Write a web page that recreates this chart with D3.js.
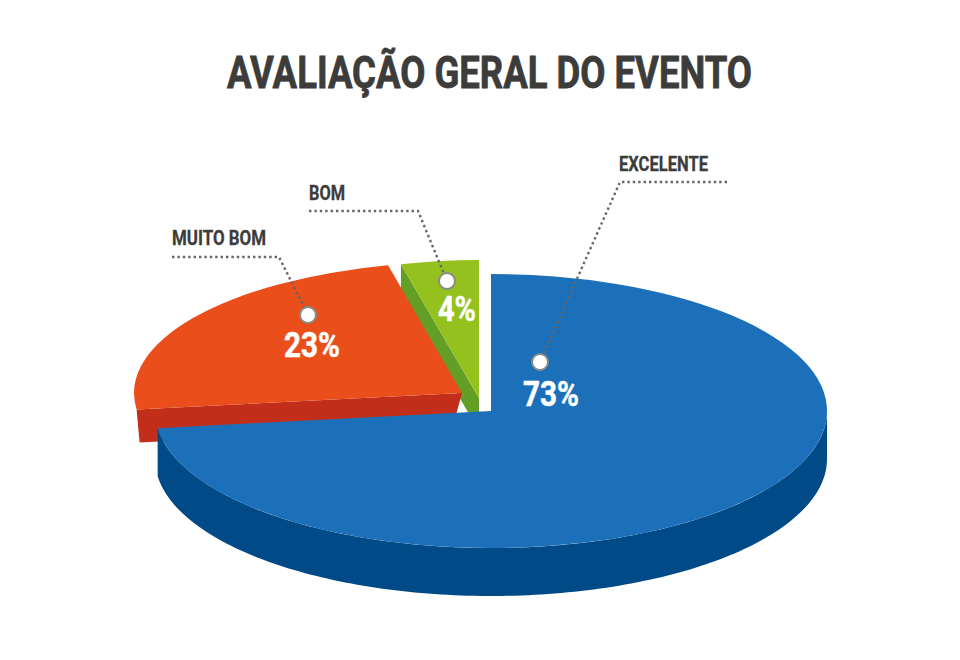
<!DOCTYPE html>
<html><head><meta charset="utf-8">
<script src="https://cdnjs.cloudflare.com/ajax/libs/d3/7.8.5/d3.min.js"></script>
<style>html,body{margin:0;padding:0;background:#fff}svg{display:block}
text{font-family:"Liberation Sans Narrow","Roboto",sans-serif;font-weight:700}</style></head>
<body><svg id="c" width="960" height="660"></svg>
<script>
const titleText = "AVALIAÇÃO GERAL DO EVENTO";
const categories = ["EXCELENTE", "MUITO BOM", "BOM"];
const values = [73, 23, 4];
const valueLabels = ["73%", "23%", "4%"];

// layout, per slice: ellipse centre and radii, extrusion depth, colours, callout
const layout = [
  {cx:491, cy:411, rx:336, ry:137, depth:48, top:"#1c70b9", side:"#004a87", endNudge:0,
   label:[619,171,89], pct:[523,406,56], dot:[540,362], elbow:[620,182], end:[727,182]},
  {cx:462, cy:393, rx:328, ry:131, depth:33, top:"#e94e1b", side:"#c32e1a", skew:[3,-9], endNudge:0.024,
   label:[172,245,94], pct:[284,357,56], dot:[308,315], elbow:[279,257], end:[172,257]},
  {cx:479, cy:398, rx:314, ry:138, depth:33, top:"#95c11f", side:"#639f26", skew:[0,0], endNudge:0,
   label:[309,200,36], pct:[438,321,38], dot:[447,281], elbow:[418,211], end:[309,211]}
];
const ink = "#3c3c3b";

const svg = d3.select("#c");
const slices = d3.pie().sort(null)(values);
const unit = d3.arc().innerRadius(0).outerRadius(100);
const onRim = (l, a) => [l.cx + l.rx*Math.sin(a), l.cy - l.ry*Math.cos(a)];

svg.append("text").attr("x",227).attr("y",88).attr("font-size",44).attr("fill",ink)
  .attr("stroke",ink).attr("stroke-width",0.8)
  .attr("textLength",525).attr("lengthAdjust","spacingAndGlyphs").text(titleText);

// draw back to front: green, red, blue
[2,1,0].forEach(i => {
  const s = slices[i], l = layout[i];
  if (i === 0) {
    // outer rim wall of the big slice
    const angles = d3.range(Math.PI/2, s.endAngle, 0.02).concat([s.endAngle]);
    svg.append("path").attr("fill", l.side).attr("d",
      d3.area().x(a => onRim(l,a)[0]).y0(a => onRim(l,a)[1]).y1(a => onRim(l,a)[1] + l.depth)(angles));
  } else {
    // cut face wall
    const p = onRim(l, s.startAngle);
    svg.append("path").attr("fill", l.side).attr("d", d3.line()([
      p, [l.cx,l.cy], [l.cx+l.skew[1], l.cy+l.depth], [p[0]+l.skew[0], p[1]+l.depth]
    ])+"Z");
  }
  svg.append("path").attr("fill", l.top)
    .attr("transform",`translate(${l.cx},${l.cy}) scale(${l.rx/100},${l.ry/100})`)
    .attr("d", unit({startAngle:s.startAngle, endAngle:s.endAngle + l.endNudge}));
});

// callouts
layout.forEach((l,i) => {
  svg.append("path").attr("fill","none").attr("stroke","#666").attr("stroke-width",2.4)
    .attr("stroke-dasharray","2.4 3")
    .attr("d", d3.line()([l.end, l.elbow, l.dot]));
  svg.append("circle").attr("cx",l.dot[0]).attr("cy",l.dot[1]).attr("r",8)
    .attr("fill","#fff").attr("stroke","#8a8a8a").attr("stroke-width",2);
  svg.append("text").attr("x",l.label[0]).attr("y",l.label[1]).attr("font-size",20).attr("fill",ink)
    .attr("stroke",ink).attr("stroke-width",0.3)
    .attr("textLength",l.label[2]).attr("lengthAdjust","spacingAndGlyphs").text(categories[i]);
  svg.append("text").attr("x",l.pct[0]).attr("y",l.pct[1]).attr("font-size",35).attr("fill","#fff")
    .attr("stroke","#fff").attr("stroke-width",0.5)
    .attr("textLength",l.pct[2]).attr("lengthAdjust","spacingAndGlyphs").text(valueLabels[i]);
});
</script></body></html>
